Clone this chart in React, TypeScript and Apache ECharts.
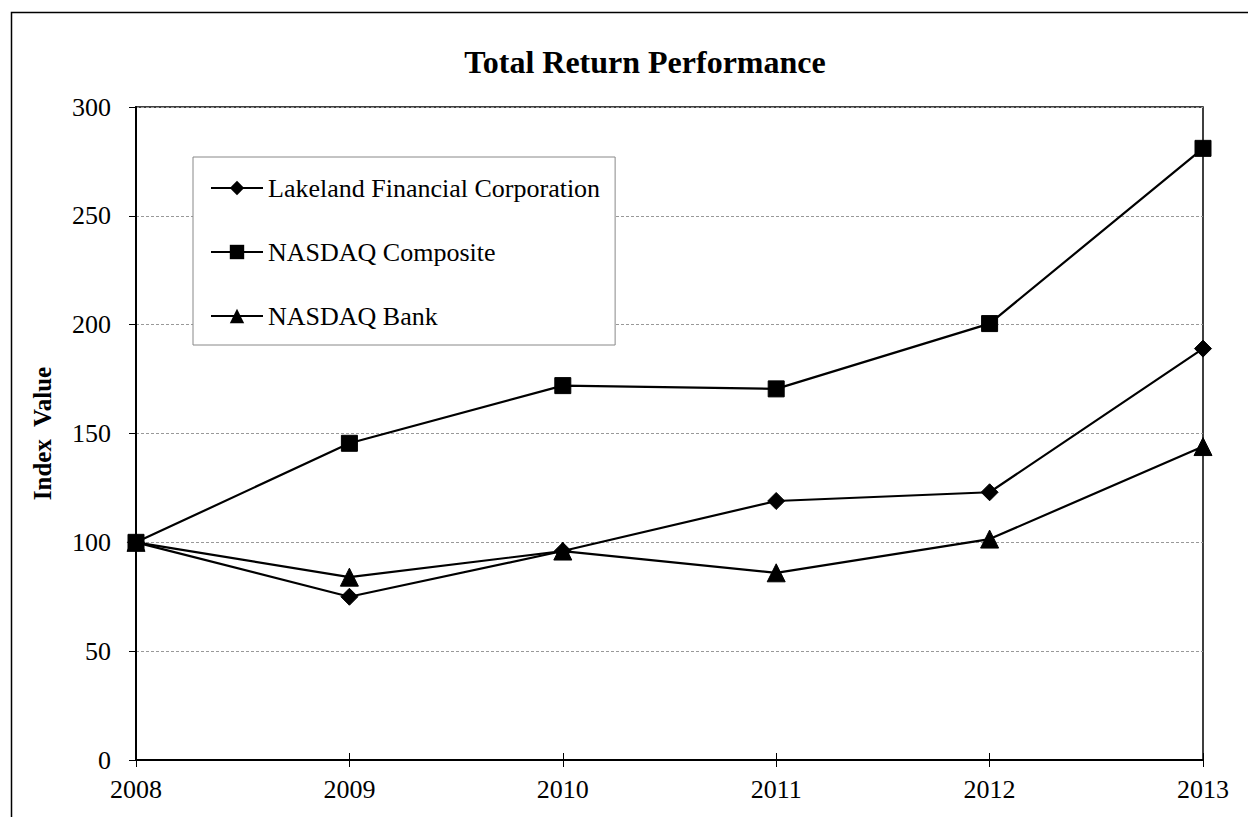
import React, { useEffect, useRef } from "react";
import * as echarts from "echarts";

const years = ["2008", "2009", "2010", "2011", "2012", "2013"];
const lakeland = [100, 75, 96, 119, 123, 189];
const nasdaqComposite = [100, 145.5, 172, 170.5, 200.5, 281];
const nasdaqBank = [100, 84, 96, 86, 101.5, 144];
const seriesNames = ["Lakeland Financial Corporation", "NASDAQ Composite", "NASDAQ Bank"];
const chartTitle = "Total Return Performance";
const yAxisTitle = "Index  Value";

const FONT = "'Liberation Serif', 'Times New Roman', serif";

export default function App() {
  const ref = useRef<HTMLDivElement>(null);
  useEffect(() => {
    if (!ref.current) return;
    const chart = echarts.init(ref.current, undefined, { renderer: "svg" });
    const mk = (name: string, data: number[], symbol: string, size: number) => ({
      name,
      type: "line",
      data,
      symbol,
      symbolSize: size,
      showAllSymbol: true,
      lineStyle: { color: "#000", width: 2.2 },
      itemStyle: { color: "#000", borderColor: "#000" },
      emphasis: { disabled: true },
      z: 3,
    });
    chart.setOption({
      animation: false,
      backgroundColor: "#fff",
      legend: {
        orient: "vertical",
        left: 193,
        top: 157,
        padding: [18, 15, 16, 17],
        itemGap: 38,
        itemWidth: 52,
        itemHeight: 18,
        backgroundColor: "#fff",
        borderColor: "#888",
        borderWidth: 1,
        textStyle: { fontFamily: FONT, fontSize: 26, color: "#000" },
        data: seriesNames,
      },
      grid: {
        left: 136,
        top: 107,
        right: 45,
        bottom: 57,
        show: true,
        borderColor: "#000",
        borderWidth: 1.5,
        backgroundColor: "transparent",
      },
      xAxis: [
        {
          type: "category",
          data: years,
          boundaryGap: false,
          axisLine: { lineStyle: { color: "#000", width: 2 } },
          axisTick: { show: true, length: 7, lineStyle: { color: "#000", width: 1 } },
          axisLabel: { fontFamily: FONT, fontSize: 26, color: "#000", margin: 16 },
          splitLine: { show: false },
        },
        {
          type: "category",
          data: years,
          boundaryGap: false,
          position: "bottom",
          axisLine: { show: false },
          axisTick: { show: true, inside: true, length: 7, lineStyle: { color: "#000", width: 1 } },
          axisLabel: { show: false },
          splitLine: { show: false },
        },
      ],
      yAxis: {
        type: "value",
        min: 0,
        max: 300,
        interval: 50,
        name: yAxisTitle,
        nameLocation: "middle",
        nameGap: 81,
        nameRotate: 90,
        nameTextStyle: { fontFamily: FONT, fontSize: 25, fontWeight: "bold", color: "#000" },
        axisLine: { show: true, lineStyle: { color: "#000", width: 2 } },
        axisTick: { show: true, length: 7, lineStyle: { color: "#000", width: 1 } },
        axisLabel: { fontFamily: FONT, fontSize: 26, color: "#000", margin: 25 },
        splitLine: { show: true, lineStyle: { color: "#999", type: [3, 2], width: 1 } },
      },
      graphic: [
        {
          type: "rect",
          shape: { x: 11.5, y: 12.5, width: 1260, height: 840 },
          style: { fill: "none", stroke: "#000", lineWidth: 1.5 },
          silent: true,
        },
        {
          type: "text",
          x: 645,
          y: 62,
          style: {
            text: chartTitle,
            fontFamily: FONT,
            fontSize: 32,
            fontWeight: "bold",
            fill: "#000",
            align: "center",
            verticalAlign: "middle",
          },
          silent: true,
        },
      ],
      series: [
        mk(seriesNames[0], lakeland, "diamond", 17),
        mk(seriesNames[1], nasdaqComposite, "rect", 16),
        mk(seriesNames[2], nasdaqBank, "triangle", 18),
      ],
    });
    return () => chart.dispose();
  }, []);
  return (
    <div
      ref={ref}
      style={{ position: "fixed", left: 0, top: 0, width: 1248, height: 817, background: "#fff" }}
    />
  );
}
